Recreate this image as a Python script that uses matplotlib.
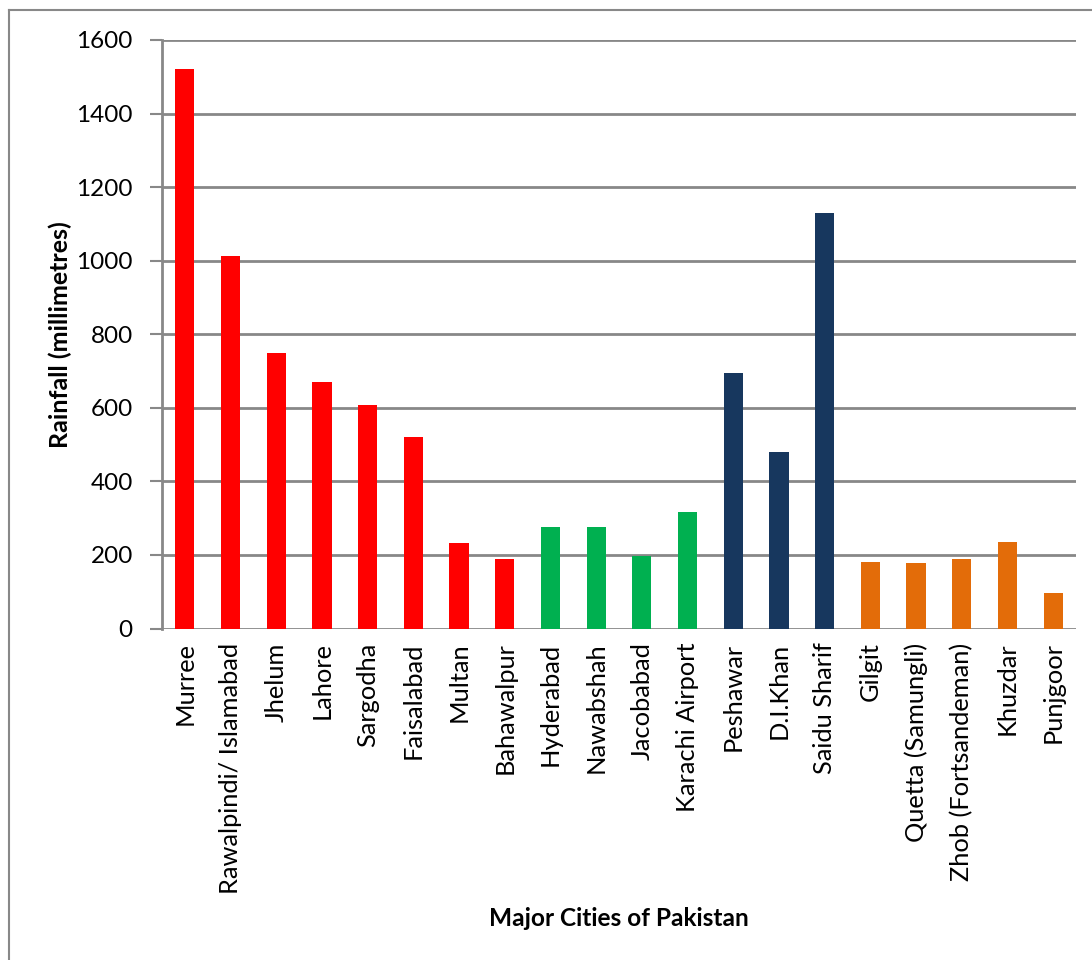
import matplotlib
matplotlib.use("Agg")
import matplotlib.pyplot as plt
from matplotlib.lines import Line2D

cities = [
    "Murree", "Rawalpindi/ Islamabad", "Jhelum", "Lahore", "Sargodha",
    "Faisalabad", "Multan", "Bahawalpur", "Hyderabad", "Nawabshah",
    "Jacobabad", "Karachi Airport", "Peshawar", "D.I.Khan", "Saidu Sharif",
    "Gilgit", "Quetta (Samungli)", "Zhob (Fortsandeman)", "Khuzdar", "Punjgoor",
]
rainfall_mm = [
    1521, 1014, 750, 669, 609,
    520, 232, 189, 276, 276,
    197, 316, 696, 479, 1131,
    180, 178, 189, 235, 96,
]
region = [
    "Punjab", "Punjab", "Punjab", "Punjab", "Punjab",
    "Punjab", "Punjab", "Punjab", "Sindh", "Sindh",
    "Sindh", "Sindh", "KP", "KP", "KP",
    "North/Balochistan", "North/Balochistan", "North/Balochistan",
    "North/Balochistan", "North/Balochistan",
]
region_colors = {
    "Punjab": "#FF0000",
    "Sindh": "#00B050",
    "KP": "#17375E",
    "North/Balochistan": "#E36C09",
}
y_ticks = [0, 200, 400, 600, 800, 1000, 1200, 1400, 1600]

plt.rcParams["font.family"] = ["Lato", "DejaVu Sans"]

W, H = 1092, 960
fig = plt.figure(figsize=(W / 100, H / 100), dpi=100)
ax = fig.add_axes([162 / W, 1 - 628.5 / H, (1076 - 162) / W, (628.5 - 40) / H])

grid_color = "#888888"
x = list(range(len(cities)))
ax.bar(x, rainfall_mm, width=0.42, color=[region_colors[r] for r in region],
       zorder=3)

ax.set_xlim(-0.5, len(cities) - 0.5)
ax.set_ylim(0, 1600)
ax.set_yticks(y_ticks)
ax.set_yticklabels([str(v) for v in y_ticks], fontsize=17.5)
ax.yaxis.grid(True, color=grid_color, linewidth=2, zorder=0)
ax.set_axisbelow(True)

ax.set_xticks(x)
ax.set_xticklabels(cities, rotation=90, fontsize=18.3, va="top", ha="center")
ax.tick_params(axis="x", length=0, pad=10)
ax.tick_params(axis="y", length=9, width=1.5, color=grid_color, pad=12)

for side in ("top", "right", "bottom"):
    ax.spines[side].set_visible(False)
ax.spines["left"].set_color(grid_color)
ax.spines["left"].set_linewidth(2)

fig.text(60 / W, 1 - 335 / H, "Rainfall (millimetres)", fontsize=18,
         fontweight="bold", rotation=90, ha="center", va="center")
fig.text(619 / W, 1 - 918 / H, "Major Cities of Pakistan", fontsize=17.6,
         fontweight="bold", ha="center", va="center")

# outer chart-area frame (runs past the right and bottom edges)
fig.add_artist(Line2D([9 / W, 9 / W], [0, 1 - 10 / H], transform=fig.transFigure,
                      color=grid_color, linewidth=1.5))
fig.add_artist(Line2D([9 / W, 1], [1 - 10 / H, 1 - 10 / H], transform=fig.transFigure,
                      color=grid_color, linewidth=1.5))

fig.savefig("out.png", dpi=100, facecolor="white")
